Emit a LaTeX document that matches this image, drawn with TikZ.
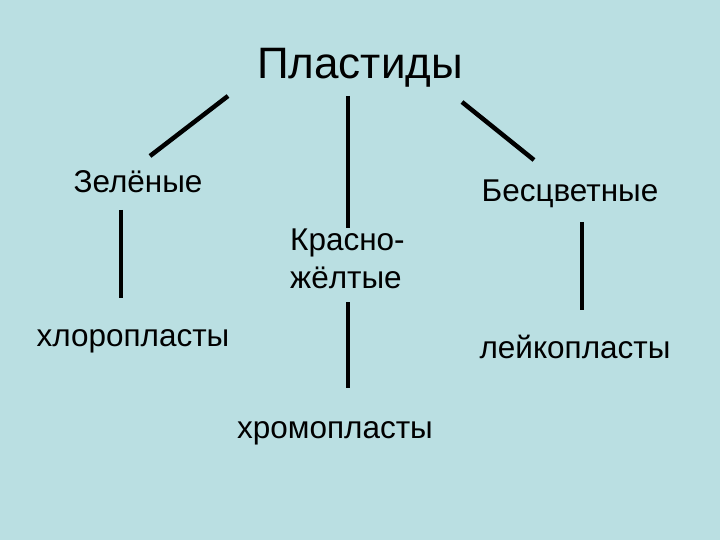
\documentclass[tikz,border=0pt]{standalone}
\usepackage{fontspec}
\setmainfont{Liberation Sans}
\definecolor{bg}{HTML}{BADFE2}
\begin{document}
\begin{tikzpicture}[x=1pt,y=-1pt,
  lbl/.style={inner sep=0pt, font=\fontsize{31.5}{38}\selectfont},
  conn/.style={line width=4.5pt, black}]
\fill[bg] (0,0) rectangle (720,540);
\useasboundingbox (0,0) rectangle (720,540);
\node[inner sep=0pt, font=\fontsize{44}{50}\selectfont] (root) at (360,68) {Пластиды};
\node[lbl] (green) at (138,182) {Зелёные};
\node[lbl] (colorless) at (570,194) {Бесцветные};
\node[lbl, align=left, anchor=west] (red) at (290,259) {Красно-\\жёлтые};
\node[lbl] (chloro) at (133,341) {хлоропласты};
\node[lbl] (chromo) at (335,433) {хромопласты};
\node[lbl] (leuco) at (575,347) {лейкопласты};
\coordinate (a1) at (228,96); \coordinate (a2) at (150,156);
\coordinate (b1) at (348,96); \coordinate (b2) at (348,228);
\coordinate (c1) at (462,102); \coordinate (c2) at (534,160);
\coordinate (d1) at (121,210); \coordinate (d2) at (121,298);
\coordinate (e1) at (348,302); \coordinate (e2) at (348,388);
\coordinate (f1) at (582,222); \coordinate (f2) at (582,310);
\draw[conn] (a1) -- (a2);
\draw[conn] (b1) -- (b2);
\draw[conn] (c1) -- (c2);
\draw[conn] (d1) -- (d2);
\draw[conn] (e1) -- (e2);
\draw[conn] (f1) -- (f2);
\end{tikzpicture}
\end{document}
